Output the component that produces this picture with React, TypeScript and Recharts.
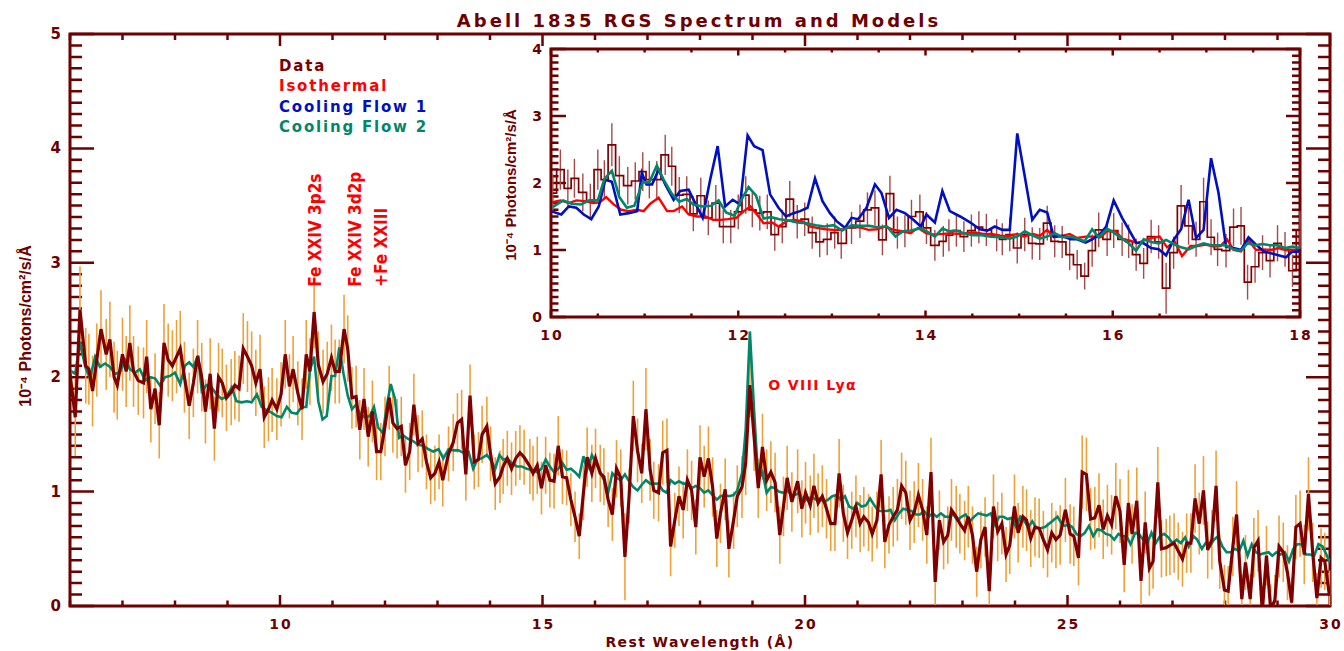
import {
  LineChart, Line, XAxis, YAxis, ErrorBar, ReferenceDot, Legend,
} from 'recharts'

// RGS data, rest wavelength (Å) / flux (1e-4 ph/cm2/s/Å) / 1 sigma error
const WAVE = [
  6.00, 6.10, 6.19, 6.30, 6.36, 6.43, 6.51, 6.59, 6.69, 6.76,
  6.84, 6.90, 7.00, 7.07, 7.14, 7.21, 7.30, 7.40, 7.46, 7.54,
  7.62, 7.70, 7.79, 7.87, 7.95, 8.03, 8.10, 8.18, 8.27, 8.35,
  8.43, 8.51, 8.58, 8.67, 8.75, 8.83, 8.90, 8.98, 9.07, 9.14,
  9.22, 9.30, 9.38, 9.46, 9.54, 9.62, 9.70, 9.78, 9.85, 9.94,
  10.02, 10.10, 10.18, 10.25, 10.34, 10.42, 10.50, 10.57, 10.65, 10.73,
  10.82, 10.90, 10.98, 11.05, 11.13, 11.22, 11.29, 11.37, 11.45, 11.52,
  11.60, 11.68, 11.76, 11.84, 11.92, 12.00, 12.08, 12.15, 12.23, 12.31,
  12.39, 12.47, 12.55, 12.63, 12.71, 12.79, 12.87, 12.95, 13.03, 13.10,
  13.21, 13.30, 13.38, 13.46, 13.54, 13.62, 13.70, 13.78, 13.85, 13.94,
  14.01, 14.10, 14.19, 14.25, 14.33, 14.41, 14.49, 14.57, 14.65, 14.76,
  14.82, 14.90, 14.98, 15.06, 15.14, 15.22, 15.30, 15.38, 15.46, 15.54,
  15.62, 15.70, 15.78, 15.85, 15.94, 16.01, 16.10, 16.17, 16.25, 16.33,
  16.41, 16.49, 16.57, 16.65, 16.73, 16.81, 16.89, 16.97, 17.05, 17.12,
  17.21, 17.29, 17.37, 17.44, 17.52, 17.60, 17.68, 17.76, 17.84, 17.92,
  18.00, 18.08, 18.16, 18.24, 18.32, 18.39, 18.48, 18.55, 18.64, 18.71,
  18.80, 18.87, 18.95, 19.03, 19.11, 19.19, 19.27, 19.35, 19.43, 19.52,
  19.59, 19.66, 19.75, 19.86, 19.94, 20.01, 20.10, 20.17, 20.25, 20.33,
  20.41, 20.49, 20.57, 20.65, 20.73, 20.81, 20.89, 20.97, 21.05, 21.12,
  21.21, 21.28, 21.37, 21.45, 21.52, 21.60, 21.68, 21.76, 21.84, 21.92,
  22.00, 22.08, 22.16, 22.24, 22.32, 22.40, 22.48, 22.56, 22.64, 22.72,
  22.79, 22.88, 22.95, 23.04, 23.11, 23.19, 23.27, 23.35, 23.43, 23.51,
  23.59, 23.67, 23.75, 23.83, 23.90, 23.99, 24.06, 24.15, 24.22, 24.30,
  24.38, 24.46, 24.54, 24.62, 24.70, 24.78, 24.86, 24.96, 25.05, 25.12,
  25.21, 25.28, 25.36, 25.44, 25.52, 25.60, 25.68, 25.76, 25.84, 25.92,
  26.00, 26.08, 26.16, 26.23, 26.32, 26.40, 26.48, 26.56, 26.63, 26.72,
  26.79, 26.88, 26.95, 27.03, 27.11, 27.19, 27.27, 27.35, 27.43, 27.51,
  27.59, 27.67, 27.75, 27.83, 27.90, 27.99, 28.06, 28.15, 28.22, 28.32,
  28.39, 28.48, 28.55, 28.63, 28.71, 28.79, 28.87, 28.95, 29.03, 29.11,
  29.19, 29.27, 29.35, 29.43, 29.51, 29.59, 29.67, 29.75, 29.83, 29.90,
  29.99,
]
const FLUX = [
  2.03, 1.65, 2.59, 2.10, 2.07, 1.88, 2.15, 2.42, 2.20, 2.33,
  2.00, 1.93, 2.20, 2.05, 2.30, 2.05, 1.97, 1.95, 2.18, 1.72,
  1.90, 1.58, 2.30, 2.15, 2.10, 2.18, 2.25, 2.00, 1.75, 1.95,
  2.18, 2.00, 1.70, 2.03, 1.55, 2.00, 1.95, 1.82, 1.87, 1.93,
  1.90, 2.25, 2.18, 2.10, 1.95, 2.07, 1.65, 1.72, 1.80, 1.72,
  1.85, 2.20, 1.92, 2.07, 1.86, 1.72, 2.20, 2.05, 2.57, 2.11,
  1.96, 2.03, 2.17, 2.05, 2.05, 2.42, 2.25, 1.82, 1.83, 1.54,
  1.81, 1.48, 1.70, 1.35, 1.35, 1.57, 1.82, 1.60, 1.55, 1.57,
  1.23, 1.35, 1.76, 1.42, 1.46, 1.26, 1.12, 1.16, 1.26, 1.10,
  1.33, 1.43, 1.60, 1.63, 1.15, 1.84, 1.26, 1.28, 1.50, 1.57,
  1.33, 1.07, 1.13, 1.22, 1.29, 1.20, 1.29, 1.34, 1.30, 1.22,
  1.16, 1.23, 1.03, 1.23, 1.10, 1.09, 1.40, 1.13, 1.12, 0.93,
  0.78, 0.61, 0.99, 1.30, 1.16, 1.29, 1.16, 1.13, 0.93, 0.80,
  1.20, 1.12, 0.43, 0.96, 1.66, 1.36, 1.16, 1.72, 1.19, 1.01,
  0.99, 1.34, 1.36, 0.52, 0.75, 0.96, 0.84, 1.10, 1.01, 0.69,
  1.30, 1.13, 1.29, 1.04, 0.59, 0.81, 1.02, 0.50, 0.75, 0.96,
  1.04, 1.25, 1.93, 1.48, 1.03, 1.39, 1.10, 1.17, 1.08, 0.62,
  0.87, 1.12, 0.91, 1.09, 0.85, 0.99, 0.88, 1.05, 0.90, 0.96,
  0.85, 0.72, 0.72, 1.16, 0.81, 0.64, 0.75, 0.87, 0.72, 0.78,
  0.73, 0.63, 0.75, 1.15, 0.56, 0.71, 0.78, 0.84, 1.05, 0.99,
  0.75, 0.82, 0.97, 0.84, 0.62, 1.17, 0.21, 0.75, 0.56, 0.62,
  0.84, 0.78, 0.72, 0.66, 0.78, 0.62, 0.30, 0.58, 0.69, 0.13,
  0.87, 0.65, 0.72, 0.45, 0.53, 0.87, 0.64, 0.78, 0.75, 0.59,
  0.69, 0.68, 0.58, 0.49, 0.64, 0.58, 0.62, 0.84, 0.63, 0.61,
  0.42, 1.17, 1.15, 0.76, 0.77, 0.88, 0.67, 0.79, 0.71, 0.96,
  0.83, 0.36, 0.90, 0.63, 0.92, 0.22, 0.73, 0.33, 0.39, 1.08,
  0.50, 0.51, 0.53, 0.55, 0.48, 0.41, 0.55, 0.55, 0.94, 0.72,
  1.01, 0.49, 0.58, 1.05, 0.39, 0.14, 0.13, 0.52, 0.80, 0.06,
  0.38, 0.06, 0.51, 0.57, -0.05, 0.44, -0.03, 0.05, 0.52, 0.47,
  0.29, 0.03, 0.69, 0.72, 0.45, 0.98, 0.47, 0.07, 0.42, 0.39,
  0.09,
]
const ERR = [
  0.36, 0.34, 0.38, 0.33, 0.31, 0.31, 0.32, 0.34, 0.31, 0.33,
  0.31, 0.30, 0.32, 0.31, 0.33, 0.31, 0.30, 0.31, 0.32, 0.29,
  0.31, 0.29, 0.34, 0.32, 0.31, 0.32, 0.33, 0.31, 0.29, 0.30,
  0.32, 0.30, 0.28, 0.31, 0.28, 0.30, 0.30, 0.29, 0.29, 0.30,
  0.29, 0.31, 0.31, 0.30, 0.29, 0.30, 0.27, 0.28, 0.28, 0.27,
  0.28, 0.30, 0.28, 0.29, 0.28, 0.27, 0.30, 0.29, 0.32, 0.29,
  0.28, 0.28, 0.29, 0.28, 0.28, 0.30, 0.29, 0.27, 0.27, 0.26,
  0.27, 0.26, 0.27, 0.25, 0.25, 0.26, 0.28, 0.26, 0.26, 0.26,
  0.24, 0.25, 0.27, 0.25, 0.25, 0.24, 0.23, 0.24, 0.24, 0.23,
  0.24, 0.25, 0.26, 0.26, 0.23, 0.27, 0.24, 0.24, 0.25, 0.26,
  0.24, 0.23, 0.23, 0.24, 0.24, 0.23, 0.24, 0.24, 0.24, 0.24,
  0.24, 0.25, 0.23, 0.25, 0.24, 0.24, 0.26, 0.24, 0.24, 0.23,
  0.22, 0.20, 0.24, 0.26, 0.25, 0.26, 0.25, 0.25, 0.24, 0.23,
  0.25, 0.25, 0.38, 0.24, 0.31, 0.28, 0.26, 0.36, 0.27, 0.25,
  0.25, 0.28, 0.28, 0.26, 0.24, 0.26, 0.25, 0.27, 0.26, 0.24,
  0.28, 0.27, 0.28, 0.26, 0.25, 0.26, 0.27, 0.25, 0.25, 0.27,
  0.27, 0.28, 0.28, 0.30, 0.26, 0.29, 0.27, 0.27, 0.26, 0.25,
  0.26, 0.28, 0.26, 0.28, 0.25, 0.27, 0.26, 0.28, 0.26, 0.27,
  0.26, 0.24, 0.24, 0.30, 0.25, 0.23, 0.25, 0.27, 0.25, 0.26,
  0.25, 0.24, 0.25, 0.30, 0.23, 0.25, 0.26, 0.27, 0.29, 0.28,
  0.26, 0.27, 0.28, 0.27, 0.25, 0.30, 0.22, 0.26, 0.24, 0.25,
  0.27, 0.27, 0.26, 0.26, 0.27, 0.25, 0.22, 0.25, 0.26, 0.20,
  0.28, 0.26, 0.27, 0.24, 0.25, 0.28, 0.26, 0.27, 0.27, 0.25,
  0.26, 0.26, 0.25, 0.24, 0.26, 0.25, 0.26, 0.28, 0.26, 0.26,
  0.24, 0.32, 0.32, 0.27, 0.27, 0.28, 0.26, 0.27, 0.26, 0.29,
  0.28, 0.24, 0.29, 0.26, 0.29, 0.23, 0.27, 0.24, 0.24, 0.31,
  0.25, 0.25, 0.26, 0.26, 0.25, 0.24, 0.26, 0.26, 0.30, 0.27,
  0.30, 0.25, 0.26, 0.31, 0.24, 0.22, 0.22, 0.26, 0.29, 0.22,
  0.24, 0.22, 0.26, 0.27, 0.22, 0.26, 0.22, 0.22, 0.27, 0.26,
  0.24, 0.22, 0.28, 0.29, 0.26, 0.32, 0.26, 0.22, 0.26, 0.25,
  0.22,
]

// Cooling Flow 2 model (full band)
const CF2_WAVE = [
  6.00, 6.10, 6.19, 6.29, 6.38, 6.48, 6.57, 6.67, 6.76, 6.86,
  6.95, 7.05, 7.14, 7.24, 7.33, 7.43, 7.52, 7.62, 7.71, 7.81,
  7.90, 8.00, 8.10, 8.19, 8.27, 8.35, 8.44, 8.51, 8.60, 8.70,
  8.79, 8.89, 8.98, 9.08, 9.17, 9.27, 9.37, 9.46, 9.56, 9.65,
  9.75, 9.84, 9.94, 10.03, 10.13, 10.22, 10.32, 10.41, 10.50, 10.57,
  10.65, 10.73, 10.81, 10.89, 10.98, 11.05, 11.13, 11.21, 11.29, 11.37,
  11.45, 11.52, 11.62, 11.71, 11.79, 11.87, 11.96, 12.03, 12.11, 12.19,
  12.27, 12.35, 12.44, 12.54, 12.63, 12.73, 12.83, 12.92, 13.02, 13.11,
  13.21, 13.30, 13.40, 13.49, 13.59, 13.68, 13.76, 13.84, 13.94, 14.01,
  14.10, 14.18, 14.25, 14.33, 14.41, 14.51, 14.60, 14.70, 14.79, 14.90,
  14.98, 15.06, 15.14, 15.22, 15.30, 15.38, 15.46, 15.54, 15.62, 15.70,
  15.78, 15.85, 15.94, 16.01, 16.10, 16.17, 16.25, 16.33, 16.41, 16.49,
  16.57, 16.65, 16.73, 16.81, 16.89, 16.97, 17.05, 17.12, 17.21, 17.29,
  17.37, 17.44, 17.52, 17.60, 17.68, 17.76, 17.84, 17.92, 18.00, 18.08,
  18.16, 18.24, 18.32, 18.39, 18.48, 18.55, 18.64, 18.71, 18.80, 18.87,
  18.95, 19.03, 19.11, 19.19, 19.27, 19.35, 19.43, 19.50, 19.59, 19.66,
  19.75, 19.81, 19.89, 19.97, 20.05, 20.13, 20.21, 20.29, 20.36, 20.44,
  20.52, 20.60, 20.68, 20.76, 20.84, 20.92, 21.00, 21.08, 21.16, 21.24,
  21.32, 21.40, 21.48, 21.56, 21.63, 21.71, 21.79, 21.87, 21.95, 22.03,
  22.11, 22.19, 22.27, 22.35, 22.43, 22.51, 22.59, 22.67, 22.75, 22.83,
  22.90, 22.98, 23.06, 23.14, 23.22, 23.30, 23.38, 23.46, 23.54, 23.62,
  23.70, 23.78, 23.86, 23.94, 24.02, 24.10, 24.17, 24.25, 24.33, 24.41,
  24.49, 24.57, 24.65, 24.73, 24.81, 24.89, 24.94, 25.02, 25.09, 25.17,
  25.25, 25.33, 25.41, 25.49, 25.57, 25.65, 25.73, 25.81, 25.89, 25.97,
  26.05, 26.13, 26.20, 26.29, 26.36, 26.44, 26.52, 26.60, 26.68, 26.76,
  26.84, 26.92, 27.00, 27.08, 27.16, 27.24, 27.31, 27.40, 27.47, 27.56,
  27.63, 27.71, 27.79, 27.87, 27.95, 28.03, 28.11, 28.19, 28.27, 28.35,
  28.43, 28.51, 28.59, 28.67, 28.74, 28.83, 28.90, 28.98, 29.06, 29.14,
  29.22, 29.30, 29.38, 29.46, 29.54, 29.62, 29.70, 29.78, 29.86, 29.94,
  30.00,
]
const CF2_FLUX = [
  2.06, 2.03, 2.31, 2.09, 1.99, 2.18, 2.09, 2.12, 2.09, 2.03,
  2.04, 2.15, 2.07, 2.04, 2.07, 1.97, 2.00, 1.99, 1.93, 2.00,
  2.01, 2.04, 1.94, 2.10, 2.13, 2.09, 2.19, 1.88, 1.93, 1.91,
  1.85, 1.81, 1.83, 1.91, 1.79, 1.78, 1.79, 1.78, 1.85, 1.74,
  1.71, 1.69, 1.66, 1.65, 1.74, 1.69, 1.68, 1.74, 1.74, 2.06,
  2.18, 1.79, 1.63, 1.66, 2.01, 2.01, 2.26, 2.03, 1.84, 1.72,
  1.76, 1.68, 1.65, 1.66, 1.74, 1.56, 1.51, 1.74, 1.94, 1.81,
  1.47, 1.49, 1.46, 1.44, 1.41, 1.40, 1.37, 1.35, 1.37, 1.29,
  1.37, 1.36, 1.36, 1.34, 1.35, 1.20, 1.28, 1.29, 1.32, 1.28,
  1.20, 1.32, 1.28, 1.29, 1.25, 1.22, 1.22, 1.20, 1.19, 1.17,
  1.20, 1.28, 1.22, 1.17, 1.20, 1.25, 1.19, 1.20, 1.17, 1.13,
  1.31, 1.19, 1.32, 1.26, 1.17, 1.10, 0.99, 1.16, 1.12, 1.10,
  1.15, 1.09, 1.04, 1.01, 1.06, 1.10, 1.07, 1.07, 1.07, 1.01,
  0.99, 1.10, 1.07, 1.09, 1.07, 1.07, 1.03, 1.05, 1.03, 0.99,
  1.01, 0.97, 0.93, 0.96, 0.97, 0.96, 0.97, 1.01, 1.16, 1.54,
  2.40, 1.71, 1.10, 1.17, 0.99, 1.04, 1.03, 1.00, 0.99, 1.01,
  0.97, 0.97, 0.99, 0.91, 0.94, 0.95, 0.93, 0.94, 0.91, 0.93,
  0.96, 0.97, 0.93, 0.96, 0.87, 0.85, 0.90, 0.87, 0.88, 0.94,
  0.88, 0.83, 0.83, 0.83, 0.84, 0.75, 0.81, 0.85, 0.84, 0.83,
  0.80, 0.80, 0.83, 0.78, 0.81, 0.78, 0.81, 0.78, 0.78, 0.80,
  0.75, 0.78, 0.80, 0.74, 0.78, 0.81, 0.80, 0.79, 0.81, 0.71,
  0.78, 0.78, 0.76, 0.77, 0.69, 0.78, 0.75, 0.69, 0.74, 0.68,
  0.68, 0.69, 0.72, 0.75, 0.78, 0.72, 0.70, 0.71, 0.69, 0.63,
  0.61, 0.64, 0.70, 0.61, 0.67, 0.66, 0.63, 0.62, 0.58, 0.63,
  0.61, 0.61, 0.54, 0.64, 0.63, 0.58, 0.55, 0.64, 0.55, 0.61,
  0.63, 0.60, 0.55, 0.58, 0.55, 0.60, 0.52, 0.61, 0.58, 0.50,
  0.55, 0.52, 0.58, 0.61, 0.52, 0.47, 0.47, 0.50, 0.48, 0.57,
  0.44, 0.54, 0.47, 0.45, 0.46, 0.47, 0.44, 0.47, 0.45, 0.47,
  0.39, 0.50, 0.54, 0.54, 0.45, 0.45, 0.44, 0.54, 0.52, 0.44,
  0.38,
]

// Isothermal model (inset band)
const ISO_WAVE = [
  10.00, 10.10, 10.19, 10.27, 10.36, 10.45, 10.52, 10.59, 10.67, 10.75,
  10.83, 10.92, 10.99, 11.06, 11.15, 11.24, 11.31, 11.40, 11.47, 11.56,
  11.65, 11.73, 11.81, 11.89, 11.98, 12.06, 12.13, 12.20, 12.27, 12.36,
  12.43, 12.52, 12.60, 12.68, 12.77, 12.84, 12.93, 13.02, 13.11, 13.16,
  13.23, 13.32, 13.39, 13.48, 13.57, 13.66, 13.75, 13.84, 13.92, 14.01,
  14.10, 14.19, 14.26, 14.35, 14.44, 14.53, 14.62, 14.71, 14.80, 14.89,
  14.98, 15.05, 15.15, 15.22, 15.30, 15.37, 15.46, 15.54, 15.62, 15.71,
  15.79, 15.87, 15.94, 16.03, 16.11, 16.19, 16.26, 16.35, 16.42, 16.50,
  16.58, 16.66, 16.74, 16.83, 16.91, 16.99, 17.08, 17.15, 17.22, 17.29,
  17.37, 17.45, 17.53, 17.61, 17.69, 17.77, 17.85, 17.93, 18.00,
]
const ISO_FLUX = [
  1.71, 1.74, 1.70, 1.74, 1.73, 1.70, 1.71, 1.79, 1.68, 1.60,
  1.58, 1.60, 1.58, 1.69, 1.78, 1.58, 1.58, 1.65, 1.53, 1.50,
  1.50, 1.45, 1.45, 1.46, 1.48, 1.58, 1.65, 1.53, 1.40, 1.41,
  1.35, 1.43, 1.45, 1.43, 1.35, 1.33, 1.31, 1.30, 1.30, 1.34,
  1.35, 1.33, 1.30, 1.31, 1.35, 1.30, 1.28, 1.25, 1.33, 1.25,
  1.23, 1.24, 1.25, 1.24, 1.25, 1.26, 1.24, 1.24, 1.21, 1.21,
  1.24, 1.20, 1.24, 1.21, 1.30, 1.19, 1.21, 1.24, 1.18, 1.20,
  1.20, 1.19, 1.28, 1.28, 1.16, 1.14, 1.10, 1.15, 1.18, 1.20,
  1.04, 1.13, 0.91, 1.06, 1.06, 1.08, 1.05, 1.06, 1.16, 1.00,
  0.98, 1.15, 1.00, 1.01, 1.00, 1.03, 1.00, 1.00, 0.98,
]

// Cooling Flow 1 model (inset band)
const CF1_WAVE = [
  10.00, 10.11, 10.19, 10.27, 10.35, 10.43, 10.51, 10.58, 10.65, 10.74,
  10.83, 10.92, 10.97, 11.02, 11.08, 11.15, 11.22, 11.31, 11.38, 11.47,
  11.54, 11.62, 11.70, 11.78, 11.86, 11.94, 12.02, 12.10, 12.17, 12.26,
  12.34, 12.43, 12.51, 12.59, 12.66, 12.74, 12.82, 12.90, 12.98, 13.05,
  13.14, 13.21, 13.28, 13.37, 13.46, 13.53, 13.61, 13.69, 13.78, 13.87,
  13.95, 14.01, 14.10, 14.18, 14.26, 14.37, 14.48, 14.58, 14.66, 14.74,
  14.82, 14.90, 14.98, 15.06, 15.14, 15.22, 15.30, 15.37, 15.46, 15.55,
  15.62, 15.71, 15.78, 15.86, 15.93, 16.01, 16.10, 16.17, 16.25, 16.33,
  16.41, 16.49, 16.57, 16.65, 16.73, 16.81, 16.89, 16.97, 17.05, 17.13,
  17.21, 17.29, 17.37, 17.45, 17.53, 17.61, 17.69, 17.77, 17.85, 17.91,
  18.00,
]
const CF1_FLUX = [
  1.58, 1.53, 1.65, 1.63, 1.53, 1.46, 1.65, 2.05, 2.02, 1.53,
  1.55, 1.58, 2.15, 1.98, 1.98, 2.20, 1.98, 1.75, 1.88, 1.90,
  1.70, 1.48, 2.05, 2.55, 1.65, 1.75, 1.68, 2.71, 2.55, 2.49,
  1.83, 1.63, 1.50, 1.55, 1.58, 1.63, 2.07, 1.73, 1.55, 1.43,
  1.33, 1.48, 1.46, 1.63, 1.98, 1.85, 1.48, 1.60, 1.55, 1.45,
  1.35, 1.53, 1.41, 1.88, 1.58, 1.50, 1.41, 1.31, 1.29, 1.35,
  1.30, 1.30, 2.74, 2.10, 1.45, 1.60, 1.56, 1.20, 1.21, 1.16,
  1.16, 1.11, 1.16, 1.23, 1.35, 1.74, 1.48, 1.31, 1.11, 1.10,
  1.03, 1.01, 0.92, 1.15, 1.31, 1.75, 1.18, 1.30, 2.37, 1.85,
  1.05, 1.03, 1.00, 1.19, 1.08, 0.98, 0.95, 0.92, 0.89, 0.97,
  0.98,
]

const MAIN_X_LABELS = [10, 15, 20, 25, 30]
const MAIN_Y_LABELS = [0, 1, 2, 3, 4, 5]
const INSET_X_LABELS = [10, 12, 14, 16, 18]
const INSET_Y_LABELS = [0, 1, 2, 3, 4]

const LEGEND = [
  { name: 'Data', color: '#7a0000' },
  { name: 'Isothermal', color: '#ff0000' },
  { name: 'Cooling Flow 1', color: '#0010c0' },
  { name: 'Cooling Flow 2', color: '#00876a' },
]

const LINES = [
  { text: 'Fe XXIV 3p2s', x: 10.67, y: 2.79, rotate: true },
  { text: 'Fe XXIV 3d2p', x: 11.43, y: 2.79, rotate: true },
  { text: '+Fe XXIII', x: 11.92, y: 2.79, rotate: true },
  { text: 'O VIII Lyα', x: 19.3, y: 1.93, rotate: false },
]

const AXIS = '#6e0000'
const DATA = '#800000'
const ISO = '#ff0000'
const CF1 = '#0010c0'
const CF2 = '#00876a'
const FONT = "'DejaVu Sans', sans-serif"
const YFONT = "'Liberation Sans', Arial, sans-serif"
const NARROW = "'Liberation Sans Narrow', 'DejaVu Sans Condensed', 'Liberation Sans', sans-serif"

// error bars stop at the zero line, as in the plot
const spectrum = WAVE.map((x, i) => {
  const e = ERR[i] ?? 0.25
  return { x, y: FLUX[i], err: [Math.min(e, FLUX[i]), e] }
})
const insetSpectrum = spectrum.filter((d) => d.x >= 9.95 && d.x <= 18.05)
const cf2 = CF2_WAVE.map((x, i) => ({ x, y: CF2_FLUX[i] }))
const iso = ISO_WAVE.map((x, i) => ({ x, y: ISO_FLUX[i] }))
const cf1 = CF1_WAVE.map((x, i) => ({ x, y: CF1_FLUX[i] }))

const range = (lo: number, hi: number, step: number) => {
  const n = Math.round((hi - lo) / step)
  return Array.from({ length: n + 1 }, (_, i) => Math.round((lo + i * step) * 1000) / 1000)
}
const mainXTicks = range(6, 30, 1)
const mainYTicks = range(0, 5, 0.1)
const insetXTicks = range(10, 18, 0.5)
const insetYTicks = range(0, 4, 0.1)

const isMajor = (labels: number[], v: number) => labels.some((l) => Math.abs(l - v) < 1e-6)

// plot boxes in px, matching the chart margins and axis sizes below
interface Box { left: number; right: number; top: number; bottom: number; x: [number, number]; y: [number, number] }
const MAIN_BOX: Box = { left: 70, right: 1330, top: 34, bottom: 606, x: [6, 30], y: [0, 5] }
const INSET_BOX: Box = { left: 551, right: 1300, top: 49, bottom: 317, x: [10, 18], y: [0, 4] }
const px = (b: Box, v: number) => b.left + ((v - b.x[0]) / (b.x[1] - b.x[0])) * (b.right - b.left)
const py = (b: Box, v: number) => b.bottom - ((v - b.y[0]) / (b.y[1] - b.y[0])) * (b.bottom - b.top)

// labels only; the inward IDL ticks are drawn by BoxTicks
function xLabel(labels: number[], gap: number, size: number) {
  return (props: any) => {
    const { x, y, payload } = props
    const v = payload.value as number
    if (!isMajor(labels, v)) return <g />
    return (
      <text x={x + 1} y={y + gap} textAnchor="middle" dominantBaseline="central"
        fill={AXIS} fontSize={size} fontWeight="bold" fontFamily={FONT} letterSpacing={2}>
        {v}
      </text>
    )
  }
}

function yLabelTick(labels: number[], gap: number, size: number) {
  return (props: any) => {
    const { x, y, payload } = props
    const v = payload.value as number
    if (!isMajor(labels, v)) return <g />
    return (
      <text x={x - gap} y={y} textAnchor="end" dominantBaseline="central"
        fill={AXIS} fontSize={size} fontWeight="bold" fontFamily={FONT}>
        {v}
      </text>
    )
  }
}

interface TickSpec {
  box: Box
  xTicks: number[]; xLabels: number[]; yTicks: number[]; yLabels: number[]
  bottom: [number, number]; top: [number, number]; left: [number, number]; right: [number, number]
}

function BoxTicks({ s }: { s: TickSpec }) {
  const b = s.box
  const segs: string[] = []
  s.xTicks.forEach((v) => {
    const m = isMajor(s.xLabels, v) ? 0 : 1
    const x = px(b, v)
    segs.push(`M${x},${b.bottom}V${b.bottom - s.bottom[m]}`)
    segs.push(`M${x},${b.top}V${b.top + s.top[m]}`)
  })
  s.yTicks.forEach((v) => {
    const m = isMajor(s.yLabels, v) ? 0 : 1
    const y = py(b, v)
    segs.push(`M${b.left},${y}H${b.left + s.left[m]}`)
    segs.push(`M${b.right},${y}H${b.right - s.right[m]}`)
  })
  return (
    <g>
      <rect x={b.left} y={b.top} width={b.right - b.left} height={b.bottom - b.top}
        fill="none" stroke={AXIS} strokeWidth={3} />
      <path d={segs.join('')} stroke={AXIS} strokeWidth={2.5} fill="none" />
    </g>
  )
}

const yAxisTitle = (cx: number, cy: number, size: number) => () => (
  <text transform={`translate(${cx}, ${cy}) rotate(-90)`} textAnchor="middle" dominantBaseline="central"
    fill={AXIS} fontSize={size} fontWeight="bold" fontFamily={YFONT}>
    10⁻⁴ Photons/cm²/s/Å
  </text>
)

const axisLine = { stroke: AXIS, strokeWidth: 2 }

function MainChart() {
  return (
    <LineChart width={1344} height={651} margin={{ top: 34, right: 14, bottom: 0, left: 0 }}>
      <XAxis xAxisId="b" type="number" dataKey="x" domain={MAIN_BOX.x} allowDataOverflow ticks={mainXTicks}
        interval={0} height={45} tickSize={0} tickMargin={0} axisLine={axisLine} tickLine={false}
        tick={xLabel(MAIN_X_LABELS, 18, 14)}
        label={{ value: 'Rest Wavelength (Å)', position: 'insideBottom', offset: 4, fill: AXIS,
          fontSize: 14, fontWeight: 'bold', fontFamily: FONT, letterSpacing: 1.4 }} />
      <YAxis yAxisId="l" type="number" domain={MAIN_BOX.y} allowDataOverflow ticks={mainYTicks} interval={0}
        width={70} tickSize={0} tickMargin={0} axisLine={axisLine} tickLine={false}
        tick={yLabelTick(MAIN_Y_LABELS, 9, 15)} label={yAxisTitle(25, 326, 16)} />

      <Line xAxisId="b" yAxisId="l" data={spectrum} dataKey="y" stroke="none" dot={false}
        activeDot={false} isAnimationActive={false} legendType="none">
        <ErrorBar dataKey="err" direction="y" width={0} stroke="#f0a038" strokeWidth={1.6}
          isAnimationActive={false} />
      </Line>
      <Line xAxisId="b" yAxisId="l" data={cf2} dataKey="y" type="linear" stroke={CF2} strokeWidth={2.6}
        dot={false} activeDot={false} isAnimationActive={false} />
      <Line xAxisId="b" yAxisId="l" data={spectrum} dataKey="y" type="linear" stroke={DATA} strokeWidth={3.2}
        dot={false} activeDot={false} isAnimationActive={false} />

      {LINES.map((l) => (
        <ReferenceDot key={l.text} xAxisId="b" yAxisId="l" x={l.x} y={l.y} r={0} ifOverflow="visible"
          shape={(p: any) => l.rotate ? (
            <text transform={`translate(${p.cx}, ${p.cy}) rotate(-90)`} textAnchor="start"
              dominantBaseline="central" fill={ISO} fontSize={17} fontWeight="bold" fontFamily={NARROW}>
              {l.text}
            </text>
          ) : (
            <text x={p.cx} y={p.cy} textAnchor="start" dominantBaseline="central" fill={ISO}
              fontSize={14} fontWeight="bold" fontFamily={FONT} letterSpacing={1.4}>
              {l.text}
            </text>
          )} />
      ))}

      <Legend layout="vertical" align="center" verticalAlign="middle"
        wrapperStyle={{ left: 279, top: 56, width: 220, height: 84 }}
        content={() => (
          <div>
            {LEGEND.map((l) => (
              <div key={l.name} style={{ color: l.color, fontFamily: FONT, fontWeight: 'bold', fontSize: 15,
                letterSpacing: 1.8, height: 20.3, lineHeight: '20.3px', whiteSpace: 'pre' }}>
                {l.name}
              </div>
            ))}
          </div>
        )} />
    </LineChart>
  )
}

function InsetChart() {
  return (
    <LineChart width={1344} height={651} margin={{ top: 49, right: 44, bottom: 309, left: 511 }}>
      <XAxis xAxisId="b" type="number" dataKey="x" domain={INSET_BOX.x} allowDataOverflow ticks={insetXTicks}
        interval={0} height={25} tickSize={0} tickMargin={0} axisLine={axisLine} tickLine={false}
        tick={xLabel(INSET_X_LABELS, 18, 14)} />
      <YAxis yAxisId="l" type="number" domain={INSET_BOX.y} allowDataOverflow ticks={insetYTicks} interval={0}
        width={40} tickSize={0} tickMargin={0} axisLine={axisLine} tickLine={false}
        tick={yLabelTick(INSET_Y_LABELS, 9, 14)} label={yAxisTitle(510, 185, 15)} />

      <Line xAxisId="b" yAxisId="l" data={insetSpectrum} dataKey="y" stroke="none" dot={false}
        activeDot={false} isAnimationActive={false}>
        <ErrorBar dataKey="err" direction="y" width={0} stroke="#a54a4a" strokeWidth={1.4}
          isAnimationActive={false} />
      </Line>
      <Line xAxisId="b" yAxisId="l" data={insetSpectrum} dataKey="y" type="step" stroke={DATA}
        strokeWidth={1.7} dot={false} activeDot={false} isAnimationActive={false} />
      <Line xAxisId="b" yAxisId="l" data={iso} dataKey="y" type="linear" stroke={ISO} strokeWidth={2.4}
        dot={false} activeDot={false} isAnimationActive={false} />
      <Line xAxisId="b" yAxisId="l" data={cf1} dataKey="y" type="linear" stroke={CF1} strokeWidth={2.6}
        dot={false} activeDot={false} isAnimationActive={false} />
      <Line xAxisId="b" yAxisId="l" data={cf2} dataKey="y" type="linear" stroke={CF2} strokeWidth={2.6}
        dot={false} activeDot={false} isAnimationActive={false} />
    </LineChart>
  )
}

const mainTicks: TickSpec = {
  box: MAIN_BOX, xTicks: mainXTicks, xLabels: MAIN_X_LABELS, yTicks: mainYTicks, yLabels: MAIN_Y_LABELS,
  bottom: [11, 5.5], top: [12, 6], left: [24, 12], right: [24, 12],
}
const insetTicks: TickSpec = {
  box: INSET_BOX, xTicks: insetXTicks, xLabels: INSET_X_LABELS, yTicks: insetYTicks, yLabels: INSET_Y_LABELS,
  bottom: [6.5, 3.5], top: [6.5, 3.5], left: [15, 7.5], right: [14, 8],
}

export default function App() {
  return (
    <div style={{ position: 'relative', width: 1344, height: 651, background: '#fff', overflow: 'hidden' }}>
      <style>{'body { margin: 0; }'}</style>
      <svg width={1344} height={651} style={{ position: 'absolute', left: 0, top: 0, pointerEvents: 'none' }}>
        <BoxTicks s={mainTicks} />
        <BoxTicks s={insetTicks} />
      </svg>
      <div style={{ position: 'absolute', left: 0, top: 0 }}>
        <MainChart />
      </div>
      <div style={{ position: 'absolute', left: 0, top: 0 }}>
        <InsetChart />
      </div>
      <div style={{ position: 'absolute', left: 0, top: 9, width: 1398, textAlign: 'center', color: AXIS,
        fontFamily: FONT, fontWeight: 'bold', fontSize: 18, letterSpacing: 3, lineHeight: '24px' }}>
        Abell 1835 RGS Spectrum and Models
      </div>
    </div>
  )
}
